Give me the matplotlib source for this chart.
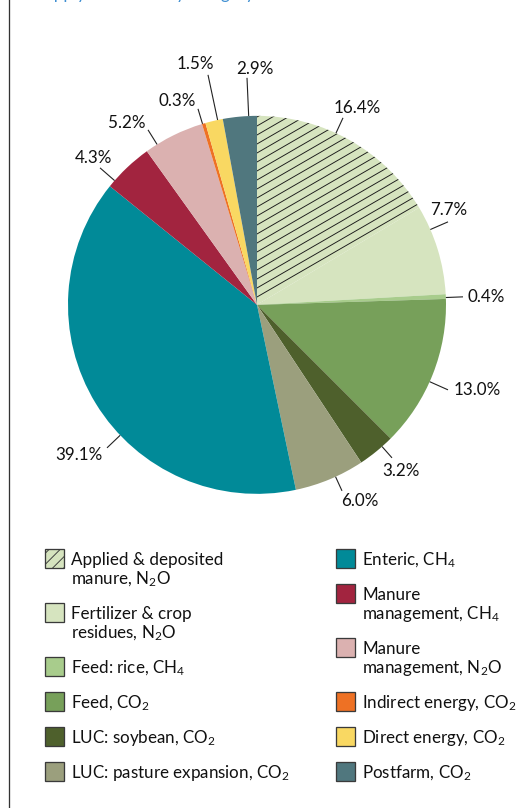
import matplotlib
matplotlib.use('Agg')
import matplotlib.pyplot as plt
from matplotlib.patches import Rectangle
import numpy as np

# ---------------- data ----------------
categories = [
    'Applied & deposited\nmanure, N$_2$O',
    'Fertilizer & crop\nresidues, N$_2$O',
    'Feed: rice, CH$_4$',
    'Feed, CO$_2$',
    'LUC: soybean, CO$_2$',
    'LUC: pasture expansion, CO$_2$',
    'Enteric, CH$_4$',
    'Manure\nmanagement, CH$_4$',
    'Manure\nmanagement, N$_2$O',
    'Indirect energy, CO$_2$',
    'Direct energy, CO$_2$',
    'Postfarm, CO$_2$',
]
values = [16.4, 7.7, 0.4, 13.0, 3.2, 6.0, 39.1, 4.3, 5.2, 0.3, 1.5, 2.9]
colors = ['#d6e4bf', '#d6e4bf', '#a8cc8c', '#77a05a', '#4e602c', '#9b9f7d',
          '#018a98', '#a2243f', '#dbb1b0', '#ee7124', '#f9d862', '#50777e']
hatched = [True] + [False] * 11
title = 'Supply emissions by category'

# ---------------- layout (pixels, origin top-left) ----------------
W, H, DPI = 532, 808, 133
label_pos = [(357, 108), (449, 210), (486, 297), (477, 390), (401, 471), (360, 501),
             (79, 455), (93, 158), (127, 123), (177, 101), (195, 64), (255, 69)]
leader_end = [(343, 118), (448, 222), (463, 297), (448, 390), (392, 458), (342, 491),
              (107, 448), (100, 168), (148, 130), (198, 109), (208, 75), (247, 78)]
center_px = (257, 305)
radius_px = 189
hatch_angle = 30      # degrees
hatch_step = 9        # vertical spacing, px

FONT = 'Lato'
plt.rcParams['font.family'] = [FONT, 'DejaVu Sans']
plt.rcParams['mathtext.fontset'] = 'custom'
plt.rcParams['mathtext.rm'] = FONT
plt.rcParams['mathtext.it'] = FONT
plt.rcParams['mathtext.bf'] = FONT
plt.rcParams['hatch.linewidth'] = 0.5

fs = 17 * 72 / DPI  # ~17 px font

def Y(y):
    return H - y

fig = plt.figure(figsize=(W / DPI, (H + 0.3) / DPI), dpi=DPI)
ax = fig.add_axes([0, 0, 1, 1])

wedges, _ = ax.pie(values, colors=colors, startangle=90, counterclock=False,
                   center=(center_px[0], Y(center_px[1])), radius=radius_px,
                   wedgeprops=dict(linewidth=0, edgecolor='none'), frame=True)
ax.set_xlim(0, W)
ax.set_ylim(0, H)
ax.axis('off')

cx, cy = center_px[0], Y(center_px[1])

# diagonal hatching inside the hatched wedge(s), clipped to the wedge
slope = np.tan(np.radians(hatch_angle))
for w, h in zip(wedges, hatched):
    if not h:
        continue
    x0, x1 = cx - radius_px, cx + radius_px
    offs = np.arange(-2 * radius_px - radius_px * slope * 2, 2 * radius_px, hatch_step)
    for o in offs:
        ln, = ax.plot([x0, x1], [cy + o, cy + o + (x1 - x0) * slope],
                      color='#1a1a1a', lw=0.5)
        ln.set_clip_path(w)

# labels with leader lines
for w, v, (tx, ty), (ex, ey) in zip(wedges, values, label_pos, leader_end):
    ex_d, ey_d = ex, Y(ey)
    ang = np.degrees(np.arctan2(ey_d - cy, ex_d - cx))
    t1, t2 = w.theta1, w.theta2
    while ang < t1:
        ang += 360
    while ang > t2:
        ang -= 360
    ang = min(max(ang, t1), t2)
    sx = cx + radius_px * np.cos(np.radians(ang))
    sy = cy + radius_px * np.sin(np.radians(ang))
    ax.plot([sx, ex_d], [sy, ey_d], color='#222222', lw=0.6, solid_capstyle='butt')
    ax.text(tx, Y(ty), f'{v:.1f}%', fontsize=fs, ha='center', va='center',
            color='#111111')

# legend (manual)
col_x = [45, 336]
text_dx = 26
patch = 19
line_h = 19
for col in range(2):
    top = 549
    for i in range(6):
        k = col * 6 + i
        rect = Rectangle((col_x[col], Y(top + patch)), patch, patch,
                         facecolor=colors[k], edgecolor='#3a3a3a', linewidth=0.7,
                         hatch='////' if hatched[k] else None)
        ax.add_patch(rect)
        lines = categories[k].split('\n')
        for j, ln in enumerate(lines):
            ax.text(col_x[col] + text_dx, Y(top + 16 + j * line_h), ln,
                    fontsize=fs, ha='left', va='baseline', color='#111111')
        top += 35 + line_h * (len(lines) - 1)

# left border line
ax.plot([9, 9], [0, H], color='#333333', lw=0.7)

# title, cut off at the top edge as in the reference
ax.text(35, H + 1, title, fontsize=fs, ha='left', va='baseline', color='#3f8fd2',
        clip_on=False)

fig.savefig('out.png', dpi=DPI)
